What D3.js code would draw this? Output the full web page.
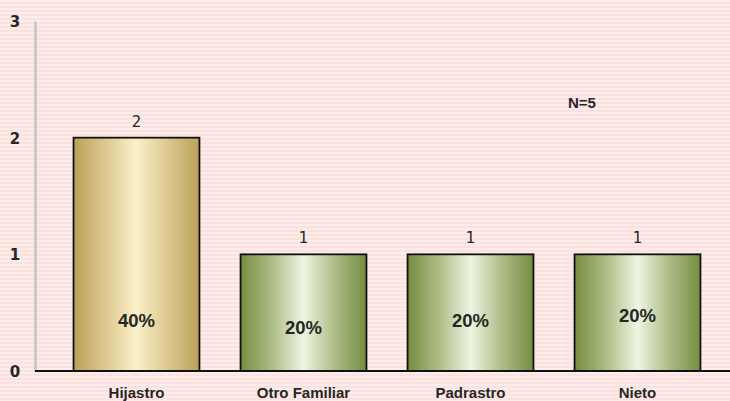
<!DOCTYPE html>
<html><head><meta charset="utf-8">
<script src="https://cdn.jsdelivr.net/npm/d3@7"></script>
<style>html,body{margin:0;padding:0;background:#fde8e5;}svg{display:block;}</style>
</head><body><div id="chart"></div>
<script>
const categories = ["Hijastro", "Otro Familiar", "Padrastro", "Nieto"];
const values = [2, 1, 1, 1];
const percents = ["40%", "20%", "20%", "20%"];
const yTicks = [0, 1, 2, 3];
const note = "N=5";
// layout only: vertical anchor (data units) of each percent label baseline
const pctAnchor = [0.377, 0.317, 0.377, 0.42];

const W = 730, H = 401;
const svg = d3.select("#chart").append("svg").attr("width", W).attr("height", H);
const defs = svg.append("defs");
const pat = defs.append("pattern").attr("id","stripes").attr("patternUnits","userSpaceOnUse")
  .attr("width", 8).attr("height", 4);
pat.append("rect").attr("width",8).attr("height",4).attr("fill","#fdece9");
pat.append("rect").attr("y",2).attr("width",8).attr("height",2).attr("fill","#fbe2de");
svg.append("rect").attr("width",W).attr("height",H).attr("fill","url(#stripes)");

function grad(id, edge, mid, center) {
  const g = defs.append("linearGradient").attr("id", id).attr("x1","0%").attr("x2","100%").attr("y1","0%").attr("y2","0%");
  g.append("stop").attr("offset","0%").attr("stop-color", edge);
  g.append("stop").attr("offset","25%").attr("stop-color", mid);
  g.append("stop").attr("offset","50%").attr("stop-color", center);
  g.append("stop").attr("offset","75%").attr("stop-color", mid);
  g.append("stop").attr("offset","100%").attr("stop-color", edge);
}
grad("gold", "#baa15a", "#dcc78e", "#fbf1c9");
grad("green", "#768d40", "#adbc86", "#eef5e2");

const y = d3.scaleLinear().domain([0, 3]).range([371, 21]);
const x = d3.scaleBand().domain(categories).range([53, 721]).paddingInner(0.246).paddingOuter(0.123);

// y axis
const yAxis = svg.append("g").attr("transform","translate(35,0)")
  .call(d3.axisLeft(y).tickValues(yTicks).tickSize(0).tickPadding(20).tickFormat(d3.format("d")));
yAxis.select(".domain").attr("stroke","#c4c4c4").attr("stroke-width",2.5);
yAxis.selectAll("text").attr("font-family","DejaVu Sans").attr("font-weight","bold")
  .attr("font-size",15).attr("fill","#262626").attr("text-anchor","middle").attr("dy","0.36em");

// bars
svg.selectAll("rect.bar").data(categories).enter().append("rect").attr("class","bar")
  .attr("x", d => x(d)).attr("width", x.bandwidth())
  .attr("y", (d,i) => y(values[i])).attr("height", (d,i) => y(0) - y(values[i]))
  .attr("fill", (d,i) => i === 0 ? "url(#gold)" : "url(#green)")
  .attr("stroke","#111").attr("stroke-width",1.8);

// x baseline
svg.append("line").attr("x1",35).attr("x2",730).attr("y1",y(0)).attr("y2",y(0))
  .attr("stroke","#111").attr("stroke-width",1.8);

// x axis labels
const xAxis = svg.append("g").attr("transform",`translate(0,${y(0)})`)
  .call(d3.axisBottom(x).tickSize(0).tickPadding(0));
xAxis.select(".domain").remove();
xAxis.selectAll("text").attr("font-family","Liberation Sans").attr("font-weight","bold")
  .attr("font-size",15).attr("fill","#262626").attr("y",27).attr("dy",0);

// value labels
svg.selectAll("text.val").data(categories).enter().append("text").attr("class","val")
  .attr("x", d => x(d) + x.bandwidth()/2).attr("y", (d,i) => y(values[i]) - 11)
  .attr("text-anchor","middle").attr("font-family","DejaVu Sans").attr("font-size",15)
  .attr("fill","#262626").text((d,i) => values[i]);

// percent labels
svg.selectAll("text.pct").data(categories).enter().append("text").attr("class","pct")
  .attr("x", d => x(d) + x.bandwidth()/2).attr("y", (d,i) => y(pctAnchor[i]))
  .attr("text-anchor","middle").attr("font-family","Liberation Sans").attr("font-weight","bold")
  .attr("font-size",18.5).attr("fill","#262626").text((d,i) => percents[i]);

svg.append("text").attr("x",568).attr("y",108).attr("font-family","Liberation Sans")
  .attr("font-weight","bold").attr("font-size",15).attr("fill","#262626").text(note);
</script></body></html>
